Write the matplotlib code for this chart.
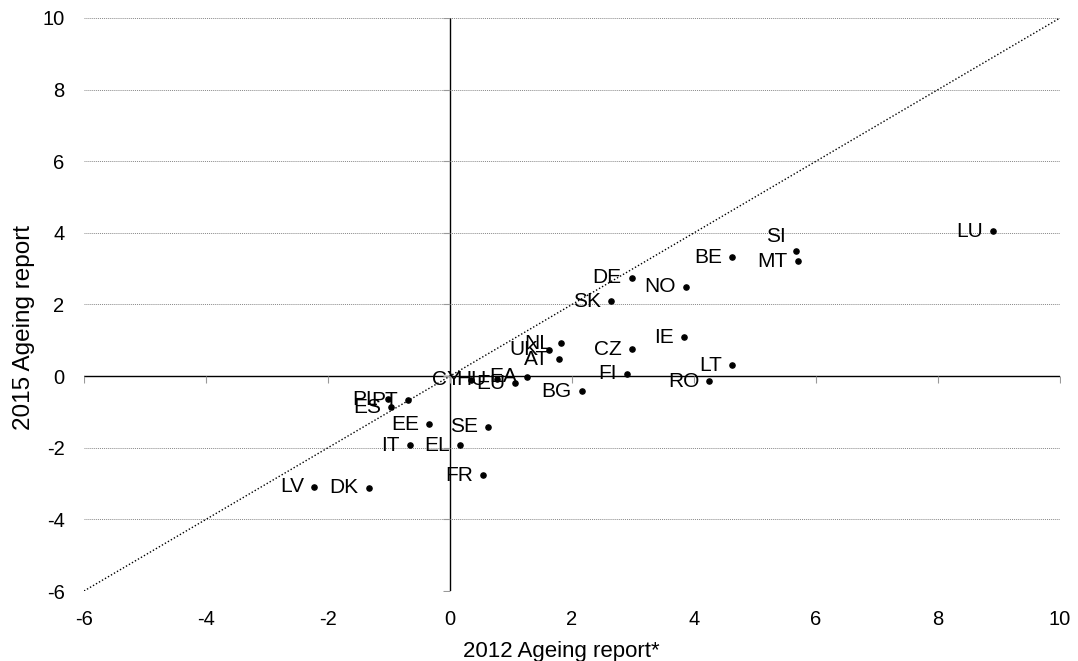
import matplotlib.pyplot as plt
import numpy as np

plt.rcParams['font.family'] = ['Liberation Sans', 'DejaVu Sans']
plt.rcParams['axes.unicode_minus'] = False

# country codes and values (2012 report on x, 2015 report on y)
countries = ['LU', 'SI', 'MT', 'BE', 'NO', 'DE', 'SK', 'IE', 'CZ', 'LT', 'FI', 'RO',
             'NL', 'UK', 'AT', 'EA', 'EU', 'BG', 'CY', 'HU', 'PL', 'PT', 'ES', 'EE',
             'SE', 'IT', 'EL', 'FR', 'DK', 'LV']
ar2012 = [8.90, 5.67, 5.70, 4.62, 3.87, 2.98, 2.64, 3.84, 2.98, 4.62, 2.90, 4.25,
          1.82, 1.62, 1.79, 1.26, 1.07, 2.16, 0.34, 0.77, -1.02, -0.69, -0.97, -0.34,
          0.62, -0.66, 0.16, 0.54, -1.33, -2.23]
ar2015 = [4.05, 3.49, 3.21, 3.32, 2.49, 2.74, 2.09, 1.09, 0.75, 0.31, 0.06, -0.14,
          0.92, 0.73, 0.47, -0.02, -0.20, -0.42, -0.10, -0.09, -0.64, -0.67, -0.87, -1.34,
          -1.42, -1.93, -1.93, -2.77, -3.12, -3.09]

ticks = [-6, -4, -2, 0, 2, 4, 6, 8, 10]

fig = plt.figure(figsize=(10.78, 6.61), dpi=100)
ax = fig.add_axes([0.0779, 0.1059, 0.9054, 0.8669])

ax.set_xlim(-6, 10)
ax.set_ylim(-6, 10)

# horizontal grid
for t in ticks:
    ax.axhline(t, color='#888888', linewidth=0.7, linestyle=(0, (1, 1)), zorder=0)

# 45 degree line
ax.plot([-6, 10], [-6, 10], color='black', linewidth=1, linestyle=(0, (1, 1.5)), zorder=1)

# zero axes
ax.axhline(0, color='black', linewidth=1, zorder=2)
ax.axvline(0, color='black', linewidth=1, zorder=2)
# small tick marks on the zero lines
ax.plot(ticks, np.zeros(len(ticks)), linestyle='none', marker=3, markersize=5,
        color='#999999', markeredgewidth=0.8, zorder=2)
ax.plot(np.zeros(len(ticks)), ticks, linestyle='none', marker=0, markersize=5,
        color='#999999', markeredgewidth=0.8, zorder=2)

ax.scatter(ar2012, ar2015, s=14, color='black', zorder=3)

for c, x, y in zip(countries, ar2012, ar2015):
    if c == 'SI':
        off = (-10, 15)
    else:
        off = (-10, 0)
    ax.annotate(c, (x, y), xytext=off, textcoords='offset pixels',
                ha='right', va='center', fontsize=15, zorder=4)

for s in ax.spines.values():
    s.set_visible(False)
ax.set_xticks(ticks)
ax.set_yticks(ticks)
ax.tick_params(length=0, labelsize=14.5)
ax.tick_params(axis='y', pad=14)
ax.tick_params(axis='x', pad=13.5)

ax.set_xlabel('2012 Ageing report*', fontsize=16, labelpad=9)
ax.set_ylabel('2015 Ageing report', fontsize=17.5, labelpad=5)
ax.xaxis.label.set_x(0.489)
ax.yaxis.label.set_y(0.46)

plt.savefig('out.png', dpi=100)
